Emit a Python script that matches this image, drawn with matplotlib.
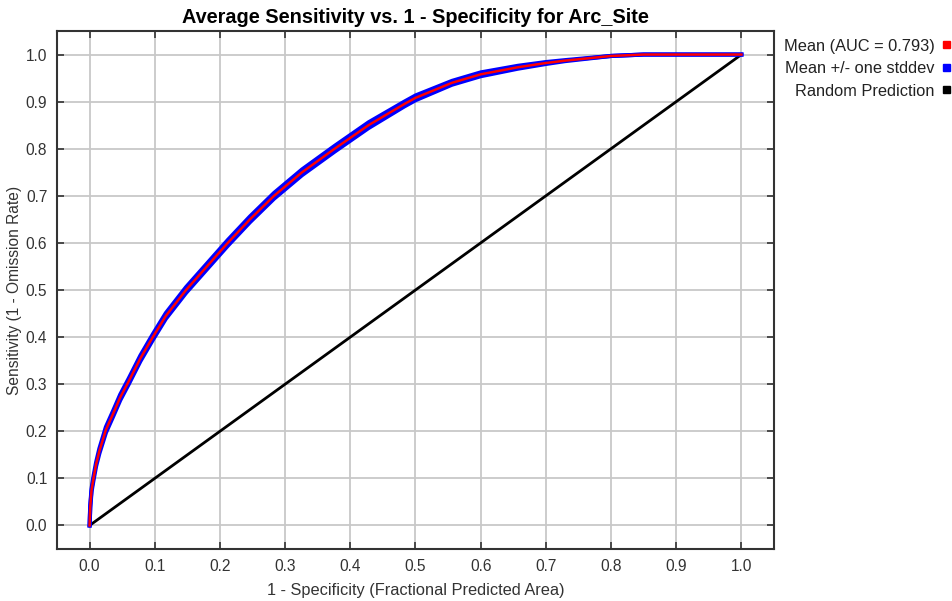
import matplotlib
matplotlib.use('Agg')
import matplotlib.pyplot as plt
import numpy as np

plt.rcParams['font.family'] = ['Liberation Sans', 'DejaVu Sans']

# mean ROC curve
fpr = [0.0, 0.001, 0.003, 0.006, 0.010, 0.015, 0.025, 0.036, 0.047, 0.060,
       0.078, 0.097, 0.117, 0.148, 0.180, 0.212, 0.246, 0.283, 0.326, 0.376,
       0.428, 0.483, 0.500, 0.556, 0.600, 0.657, 0.700, 0.729, 0.800, 0.850,
       0.900, 1.0]
tpr = [0.0, 0.040, 0.075, 0.100, 0.130, 0.158, 0.203, 0.237, 0.272, 0.306,
       0.355, 0.400, 0.445, 0.500, 0.550, 0.600, 0.650, 0.700, 0.750, 0.800,
       0.850, 0.895, 0.908, 0.940, 0.958, 0.973, 0.982, 0.987, 0.997, 1.0,
       1.0, 1.0]
# one stddev around the mean (thin band)
tpr_std = [0.0, 0.002, 0.003, 0.004, 0.004, 0.005, 0.006, 0.006, 0.006, 0.006,
           0.006, 0.006, 0.006, 0.006, 0.006, 0.006, 0.006, 0.006, 0.006, 0.006,
           0.006, 0.005, 0.005, 0.004, 0.004, 0.003, 0.002, 0.001, 0.0, 0.0,
           0.0, 0.0]
random_x = [0.0, 1.0]
random_y = [0.0, 1.0]

auc = 0.793
title = 'Average Sensitivity vs. 1 - Specificity for Arc_Site'
legend_labels = [f'Mean (AUC = {auc:.3f})', 'Mean +/- one stddev', 'Random Prediction']
legend_colors = ['#ff0000', '#0000ff', '#000000']

fig = plt.figure(figsize=(9.53, 6.01), dpi=100)
ax = fig.add_axes([57 / 953, 1 - 549 / 601, (774 - 57) / 953, (549 - 31) / 601])

x = np.array(fpr)
y = np.array(tpr)
s = np.array(tpr_std)
ax.plot(x, y + s, color='#0000ff', lw=3.0, zorder=3)
ax.plot(x, y - s, color='#0000ff', lw=3.0, zorder=3)
ax.plot(x, y, color='#ff0000', lw=1.8, zorder=4)
ax.plot(random_x, random_y, color='black', lw=2.0, zorder=2)

ax.set_xlim(-0.05, 1.05)
ax.set_ylim(-0.05, 1.05)
ticks = np.round(np.arange(0, 1.01, 0.1), 1)
ax.set_xticks(ticks)
ax.set_yticks(ticks)
ax.set_xticklabels([f'{t:.1f}' for t in ticks])
ax.set_yticklabels([f'{t:.1f}' for t in ticks])
ax.tick_params(direction='in', length=5, width=1.2, top=True, right=True,
               labelsize=11.2, colors='#333333', labelcolor='#333333', pad=7)
ax.grid(True, color='#c8c8c8', lw=1.3, zorder=0)
ax.set_axisbelow(True)
for sp in ax.spines.values():
    sp.set_color('#333333')
    sp.set_linewidth(1.5)

ax.set_xlabel('1 - Specificity (Fractional Predicted Area)', fontsize=11.8, color='#333333', labelpad=7)
ax.set_ylabel('Sensitivity (1 - Omission Rate)', fontsize=11.2, color='#333333', labelpad=3)
ax.set_title(title, fontsize=14.3, fontweight='bold', pad=6)

# legend on the right, text right-aligned with square markers
for i, (lab, col) in enumerate(zip(legend_labels, legend_colors)):
    ypix = 46 + i * 22.5
    fig.text(935 / 953, 1 - ypix / 601, lab, ha='right', va='center',
             fontsize=11.8, color='#222222')
    fig.patches.append(plt.Rectangle((943 / 953, 1 - (ypix + 2) / 601), 7 / 953, 7 / 601,
                                     transform=fig.transFigure, color=col, figure=fig))

fig.savefig('out.png', dpi=100)
